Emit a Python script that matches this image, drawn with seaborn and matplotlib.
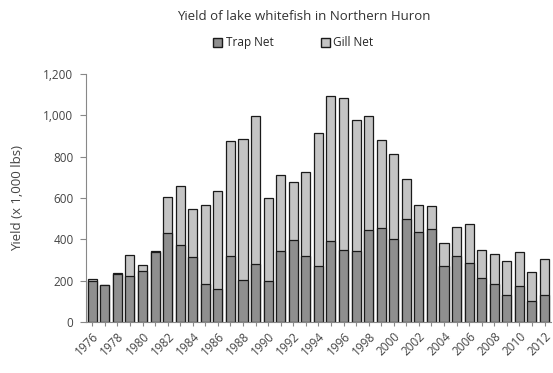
import numpy as np
import pandas as pd
import seaborn as sns
import matplotlib.pyplot as plt
import matplotlib.transforms as mtransforms
from matplotlib.patches import Patch

years = list(range(1976, 2013))
trap_net = [199, 179, 230, 223, 247, 338, 430, 373, 312, 184, 157, 317,
            203, 279, 197, 341, 397, 321, 273, 391, 350, 341, 443, 455,
            399, 497, 433, 449, 273, 317, 284, 213, 184, 132, 174, 99, 128]
total = [207, 179, 236, 325, 275, 341, 606, 656, 547, 567, 635, 875,
         885, 996, 598, 711, 677, 727, 916, 1093, 1084, 975, 996, 879,
         811, 694, 565, 560, 380, 459, 472, 349, 331, 296, 338, 242, 304]
gill_net = [t - p for t, p in zip(total, trap_net)]

df = pd.DataFrame({'Year': [str(y) for y in years], 'Trap': trap_net,
                   'Gill': gill_net})
df['Total'] = df['Trap'] + df['Gill']

sns.set_style('white')
plt.rcParams['font.family'] = ['Open Sans', 'DejaVu Sans']

trap_color = '#8f8f8f'
gill_color = '#c4c4c4'
text_color = '#444444'

fig = plt.figure(figsize=(5.53, 3.73), dpi=100)
ax = fig.add_axes([0.1555, 0.137, 0.8405, 0.6646])

sns.barplot(data=df, x='Year', y='Total', color=gill_color, saturation=1,
            width=0.72, edgecolor='#1a1a1a', linewidth=0.9, ax=ax)
sns.barplot(data=df, x='Year', y='Trap', color=trap_color, saturation=1,
            width=0.72, edgecolor='#1a1a1a', linewidth=0.9, ax=ax)

ax.set_xlim(-0.5, len(years) - 0.5)
ax.set_ylim(0, 1200)
ax.set_yticks(range(0, 1201, 200))
ax.set_yticklabels(['{:,}'.format(v) for v in range(0, 1201, 200)], fontsize=8.5,
                   color=text_color)
ax.set_xticks(range(len(years)))
ax.set_xticklabels([str(y) if (y - 1976) % 2 == 0 else '' for y in years],
                   rotation=45, ha='right', rotation_mode='anchor', fontsize=8.5,
                   color=text_color)
shift = mtransforms.ScaledTranslation(-5 / 100, 0, fig.dpi_scale_trans)
for lab in ax.get_xticklabels():
    lab.set_transform(lab.get_transform() + shift)
ax.tick_params(axis='y', direction='out', length=4, width=0.8, color='#888888',
               left=True, pad=5)
ax.tick_params(axis='x', direction='out', length=3, width=0.8, color='#888888',
               bottom=True, pad=3)
ax.set_xlabel('')
ax.set_ylabel('Yield (x 1,000 lbs)', fontsize=9.5, color=text_color, labelpad=14)

sns.despine(ax=ax)
for s in ['left', 'bottom']:
    ax.spines[s].set_color('#888888')
    ax.spines[s].set_linewidth(0.8)

fig.text(0.55, 0.955, 'Yield of lake whitefish in Northern Huron',
         ha='center', va='center', fontsize=9.5, color='#333333')
handles = [Patch(facecolor=trap_color, edgecolor='#1a1a1a', label='Trap Net'),
           Patch(facecolor=gill_color, edgecolor='#1a1a1a', label='Gill Net')]
fig.legend(handles=handles, loc='center', bbox_to_anchor=(0.53, 0.885), ncol=2,
           frameon=False, fontsize=8.5, handlelength=0.8, handleheight=0.8,
           handletextpad=0.3, columnspacing=4.0)

fig.savefig('out.png', dpi=100)
